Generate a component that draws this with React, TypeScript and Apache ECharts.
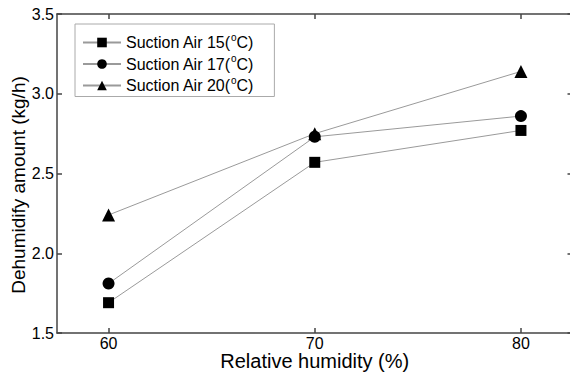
import React, { useEffect, useRef } from "react";
import * as echarts from "echarts";

const humidity = [60, 70, 80];
const air15 = [1.69, 2.57, 2.77];
const air17 = [1.81, 2.73, 2.86];
const air20 = [2.24, 2.75, 3.14];
const seriesNames = ["Suction Air 15(°C)", "Suction Air 17(°C)", "Suction Air 20(°C)"];
const xTicks = [60, 70, 80];
const xTitle = "Relative humidity (%)";
const yTitle = "Dehumidify amount (kg/h)";

export default function App() {
  const ref = useRef<HTMLDivElement>(null);
  useEffect(() => {
    if (!ref.current) return;
    const chart = echarts.init(ref.current, null, { renderer: "svg" });
    const font = "'Liberation Sans', Arial, sans-serif";
    const axisColor = "#444";
    const mk = (name: string, vals: number[], symbol: string, size: number) => ({
      name,
      type: "line",
      data: humidity.map((h, i) => [h, vals[i]]),
      symbol,
      symbolSize: size,
      lineStyle: { color: "#9a9a9a", width: 1 },
      itemStyle: { color: "#000" },
      z: 3,
    });
    chart.setOption({
      animation: false,
      textStyle: { fontFamily: font },
      grid: { left: 57, top: 14, width: 515.5, height: 319, outerBoundsMode: "none", containLabel: false },
      graphic: [
        {
          type: "text",
          x: 18,
          y: 185,
          rotation: Math.PI / 2,
          style: {
            text: yTitle,
            fontSize: 19,
            fontFamily: font,
            fill: "#000",
            textAlign: "center",
            textVerticalAlign: "middle",
          },
        },
      ],
      legend: {
        orient: "vertical",
        left: 75,
        top: 24,
        padding: [8, 21, 3, 7],
        itemGap: 3,
        itemWidth: 38,
        itemHeight: 12,
        borderColor: "#aaa",
        borderWidth: 1,
        data: seriesNames,
        formatter: (n: string) => n.replace("°", "{sup|o}"),
        textStyle: {
          fontSize: 16,
          color: "#000",
          fontFamily: font,
          rich: { sup: { fontSize: 10, padding: [0, 0, 11, 0], fontFamily: font } },
        },
      },
      xAxis: [
        {
          type: "value",
          min: 57.5,
          max: 82.5,
          name: xTitle,
          nameLocation: "middle",
          nameGap: 18,
          nameMoveOverlap: false,
          nameTextStyle: { fontSize: 20, lineHeight: 20, color: "#000", fontFamily: font },
          axisLine: { lineStyle: { color: axisColor, width: 1.5 } },
          axisTick: { inside: true, length: 5, customValues: xTicks, lineStyle: { color: axisColor, width: 1.5 } },
          axisLabel: { customValues: xTicks, fontSize: 16, lineHeight: 16, color: "#000", margin: 2 },
          splitLine: { show: false },
        },
        {
          type: "value",
          position: "top",
          min: 57.5,
          max: 82.5,
          axisLine: { lineStyle: { color: axisColor, width: 1.5 } },
          axisTick: { inside: true, length: 5, customValues: xTicks, lineStyle: { color: axisColor, width: 1.5 } },
          axisLabel: { show: false },
          splitLine: { show: false },
        },
      ],
      yAxis: [
        {
          type: "value",
          min: 1.5,
          max: 3.5,
          interval: 0.5,
          axisLine: { show: true, lineStyle: { color: axisColor, width: 1.5 } },
          axisTick: { show: true, inside: true, length: 5, lineStyle: { color: axisColor, width: 1.5 } },
          axisLabel: { fontSize: 16, color: "#000", margin: 3, formatter: (v: number) => v.toFixed(1) },
          splitLine: { show: false },
        },
        {
          type: "value",
          position: "right",
          min: 1.5,
          max: 3.5,
          interval: 0.5,
          axisLine: { show: true, lineStyle: { color: axisColor, width: 1.5 } },
          axisTick: { show: true, inside: true, length: 5, lineStyle: { color: axisColor, width: 1.5 } },
          axisLabel: { show: false },
          splitLine: { show: false },
        },
      ],
      series: [
        mk(seriesNames[0], air15, "rect", 11),
        mk(seriesNames[1], air17, "circle", 12),
        mk(seriesNames[2], air20, "triangle", 13),
      ],
    });
    return () => chart.dispose();
  }, []);
  return <div ref={ref} style={{ width: 570, height: 374, position: "absolute", left: 0, top: 0 }} />;
}
